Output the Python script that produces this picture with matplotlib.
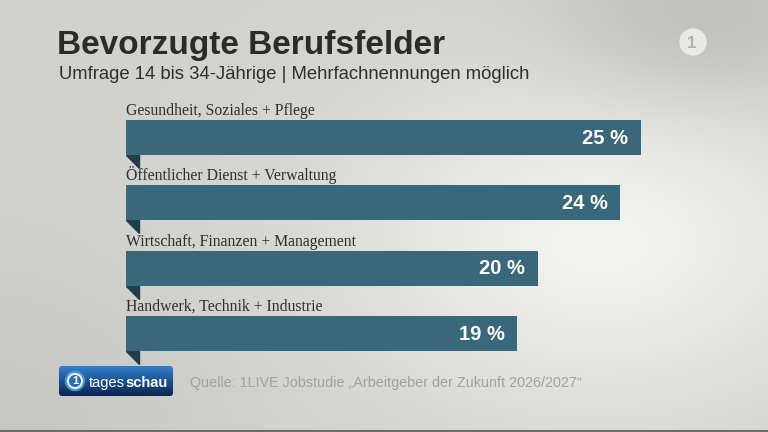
import numpy as np
import matplotlib
matplotlib.use('Agg')
import matplotlib.pyplot as plt
from matplotlib import font_manager
from matplotlib.patches import Polygon, Circle, FancyBboxPatch

# data
categories = ['Gesundheit, Soziales + Pflege',
              'Öffentlicher Dienst + Verwaltung',
              'Wirtschaft, Finanzen + Management',
              'Handwerk, Technik + Industrie']
values = [25, 24, 20, 19]
title = 'Bevorzugte Berufsfelder'
subtitle = 'Umfrage 14 bis 34-Jährige | Mehrfachnennungen möglich'
source = 'Quelle: 1LIVE Jobstudie \u201eArbeitgeber der Zukunft 2026/2027\u201c'

names = {f.name for f in font_manager.fontManager.ttflist}
narrow = 'Liberation Sans Narrow' if 'Liberation Sans Narrow' in names else 'Liberation Sans'
serif = 'Liberation Serif'

BAR = '#386879'
TAIL = '#1f3d4b'
W, H = 768, 432

fig = plt.figure(figsize=(W / 100, H / 100), dpi=100)

# background in pixel coords
bg = fig.add_axes([0, 0, 1, 1])
bg.set_xlim(0, W)
bg.set_ylim(H, 0)
bg.axis('off')
xx, yy = np.meshgrid(np.arange(W), np.arange(H))
v = (0.82 + 0.13 * np.exp(-((xx - 600) / 260.0) ** 2 - ((yy - 240) / 170.0) ** 2)
     - 0.085 * np.exp(-((xx - 700) / 150.0) ** 2 - ((yy - 20) / 90.0) ** 2)
     - 0.04 * np.exp(-((xx - 0) / 200.0) ** 2 - ((yy - 432) / 150.0) ** 2))
img = np.dstack([v, v, v * 0.985])
bg.imshow(img, extent=(0, W, H, 0), aspect='auto', zorder=0)
bg.axhline(431, color='#6d6d6a', lw=1.5, zorder=1)

bg.text(57, 54, title, fontsize=24, fontweight='bold', family=narrow,
        color='#2b2b2a', va='baseline')
bg.text(59, 79, subtitle, fontsize=13.3, family=narrow, color='#2f2f2e', va='baseline')

# ARD logo
bg.add_patch(Circle((693, 42), 13, color='#e9e9e7', zorder=2))
bg.text(692, 43, '1', fontsize=12, fontweight='bold', color='#b0b0ab',
        ha='center', va='center', zorder=3, family=narrow)

# tagesschau logo
box = FancyBboxPatch((59, 366), 114, 30, boxstyle='round,pad=0,rounding_size=3',
                     fc='none', ec='none', zorder=2)
bg.add_patch(box)
grad = np.linspace(0, 1, 60)[:, None]
top = np.array([0.20, 0.50, 0.80])
bot = np.array([0.04, 0.14, 0.32])
gimg = top[None, None, :] * (1 - grad[..., None]) + bot[None, None, :] * grad[..., None]
gimg = np.repeat(gimg, 10, axis=1)
gi = bg.imshow(gimg, extent=(59, 173, 396, 366), aspect='auto', zorder=2)
gi.set_clip_path(box)
bg.add_patch(Circle((75, 381), 9.5, color='#4a9ad8', zorder=3))
bg.add_patch(Circle((75, 381), 7, fc='#2a70b8', ec='white', lw=1.3, zorder=4))
bg.text(75, 381.5, '1', fontsize=8, fontweight='bold', color='white', ha='center',
        va='center', zorder=5, family=narrow)
t1 = bg.text(89, 387, 'tages', fontsize=10.5, color='white', family=narrow,
             va='baseline', zorder=5)
bg.annotate('schau', xy=(1, 0), xycoords=t1, fontsize=10.5, fontweight='bold',
            color='white', family=narrow, va='bottom', zorder=5)

bg.text(190, 387, source, fontsize=10.4, family=narrow, color='#a2a29e', va='baseline')

# bars
ax = fig.add_axes([126 / W, 1 - 366 / H, 618 / W, 261 / H])
ax.patch.set_alpha(0)
ax.set_xlim(0, 30)
ax.set_ylim(3.5, -0.5)
ax.axis('off')
pos = np.arange(len(values))
bh = 35 / 65.3
bars = ax.barh(pos, values, height=bh, color=BAR, zorder=2)
dx = 13 / 20.6
dy = 13 / 65.3
for i, (b, c, val) in enumerate(zip(bars, categories, values)):
    y0 = b.get_y()
    y1 = y0 + b.get_height()
    ax.add_patch(Polygon([(0, y1), (dx, y1), (dx, y1 + dy)], closed=True,
                         color=TAIL, zorder=1))
    ax.text(0, y0 - 5 / 65.3, c, family=serif, fontsize=11.3, color='#2f2f2e',
            va='baseline', ha='left')
    ax.text(val - dx, i + 0.01, f'{val} %', color='white', fontweight='bold',
            family=narrow, fontsize=14.5, ha='right', va='center')

fig.savefig('out.png', dpi=100)
